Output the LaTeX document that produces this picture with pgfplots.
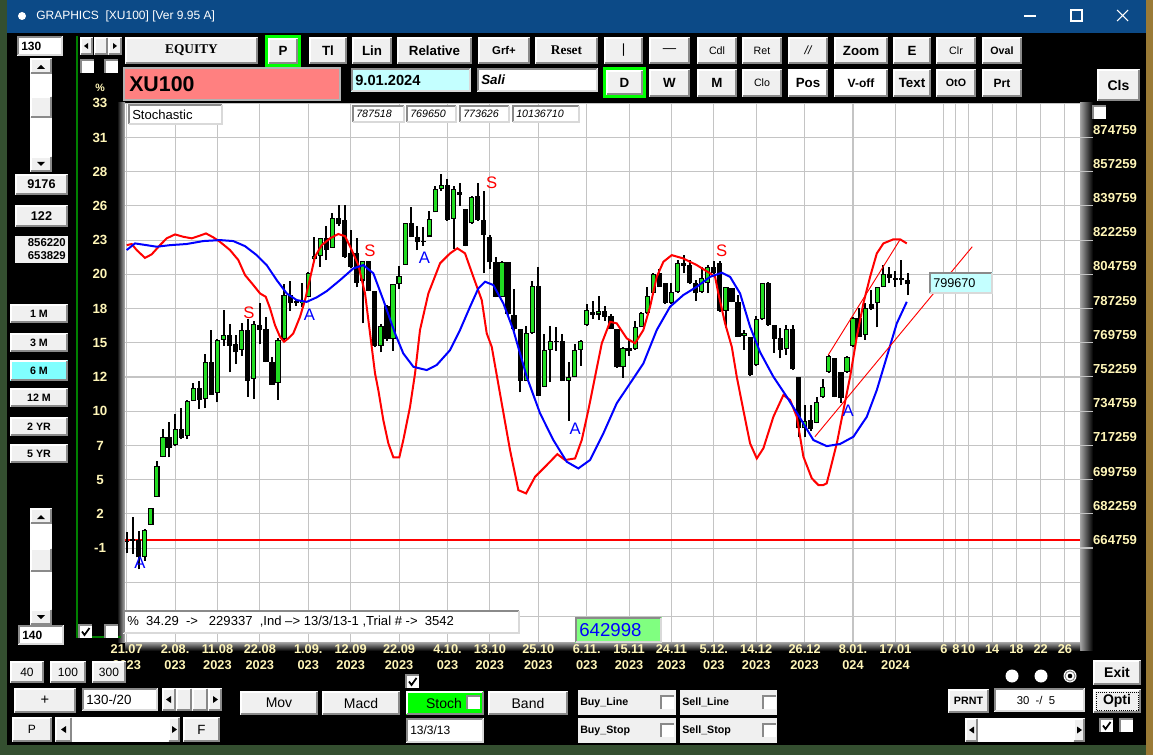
\documentclass[border=0pt]{standalone}
\usepackage{pgfplots}
\pgfplotsset{compat=1.18}
\usepackage{pgfplotstable}
\usepackage{fontspec}
\setmainfont{Liberation Sans}
\newfontfamily\tnr{Liberation Serif}
\definecolor{titleblue}{HTML}{0C4A87}
\definecolor{btngray}{HTML}{F0F0F0}
\definecolor{btndark}{HTML}{8A8A8A}
\definecolor{labyel}{HTML}{FFF6B8}
\definecolor{pinkbox}{HTML}{FF8080}
\definecolor{cyanbox}{HTML}{C4FFFF}
\definecolor{cyanbtn}{HTML}{80FFFF}
\definecolor{gbtn}{HTML}{00FF00}
\definecolor{lgreen}{HTML}{80FF80}
\definecolor{cgreen}{HTML}{22DD22}
\definecolor{frgreen}{HTML}{008000}
\definecolor{desk}{HTML}{344F30}
\definecolor{deskbrown}{HTML}{9A7A36}
\definecolor{gridgray}{HTML}{C4C4C4}
\newcommand{\fs}[1]{\fontsize{#1}{#1}\selectfont}
\newcommand{\btn}[6][btngray]{%
  \fill[#1] (#2,#3) rectangle (#4,#5);
  \draw[white,line width=1.2pt] (#2+0.8,#5-0.8) -- (#2+0.8,#3+0.8) -- (#4-0.8,#3+0.8);
  \draw[btndark,line width=1.2pt] (#2+0.8,#5-0.8) -- (#4-0.8,#5-0.8) -- (#4-0.8,#3+0.8);
  \node[inner sep=0pt] at ({(#2+#4)/2},{(#3+#5)/2}) {#6};}
\newcommand{\tbox}[6][white]{%
  \fill[#1] (#2,#3) rectangle (#4,#5);
  \draw[btndark,line width=1.2pt] (#2+0.8,#5-0.8) -- (#2+0.8,#3+0.8) -- (#4-0.8,#3+0.8);
  \draw[gray!30,line width=1.2pt] (#2+0.8,#5-0.8) -- (#4-0.8,#5-0.8) -- (#4-0.8,#3+0.8);
  \node[anchor=west,inner sep=0pt] at (#2+4,{(#3+#5)/2}) {#6};}
\newcommand{\cbox}[2]{\fill[white] (#1,#2) rectangle ++(13,13);
  \draw[btndark,line width=1pt] (#1,#2+13) -- (#1,#2) -- (#1+13,#2);}
\newcommand{\cboxc}[2]{\cbox{#1}{#2}\draw[black,line width=1.3pt] (#1+3,#2+6.5) -- (#1+5.5,#2+10) -- (#1+10.5,#2+3);}

\pgfplotstableread{
i o h l c
0 668600 672800 662000 668000
1 668300 680800 661700 669200
2 669000 673300 653829 660000
3 660300 674300 658300 674000
4 676700 685200 676500 685100
5 691000 709400 690900 706900
6 711500 725700 711200 721400
7 721400 729400 711200 715900
8 717600 733300 717100 725500
9 725700 736400 720400 721000
10 722100 740500 720400 739800
11 740200 749000 739800 746500
12 746500 750000 735900 740500
13 741000 764000 736400 759900
14 759900 776300 743100 743200
15 744100 771700 739300 771400
16 771400 786700 768100 773800
17 773800 779400 754600 768100
18 769100 773800 758900 764900
19 766100 779700 763200 776300
20 776300 781900 742200 750400
21 751200 781100 741000 779400
22 779100 790000 769100 776300
23 776800 782800 759700 760100
24 760100 762300 748300 748300
25 749000 772200 740500 771400
26 771700 799900 771400 794200
27 794200 801200 786200 790000
28 791300 792200 788800 790000
29 790000 800200 787900 791300
30 793000 806200 793000 805700
31 812600 823700 812300 814000
32 814300 823400 808700 823400
33 823200 829400 812100 817200
34 818300 836000 818300 833600
35 833600 840300 829700 830600
36 832600 840500 813200 813800
37 815500 827500 808000 808700
38 815500 823400 798100 800500
39 801600 811800 779700 811800
40 811400 811800 796100 796400
41 796400 796400 767400 768100
42 768300 779400 764900 778500
43 788800 789100 770900 771700
44 771700 799900 765700 799900
45 799900 809200 797300 803800
46 809700 831100 809700 830900
47 830900 839100 823700 824100
48 824100 829700 817200 821500
49 822000 828800 819500 821200
50 824100 837400 823700 833100
51 836500 850200 836500 848500
52 848500 856220 847600 850700
53 850700 853600 832300 832600
54 833100 850200 817800 848500
55 846800 851400 839900 845400
56 838200 838200 819100 819500
57 830900 845100 830600 844500
58 845100 851400 832300 832600
59 832600 847600 805300 825100
60 824100 825100 807500 810900
61 810900 813500 793000 793400
62 793400 811800 793000 811300
63 811300 811300 784200 784500
64 784200 797300 776000 776800
65 776800 776800 744400 750400
66 750400 778500 750000 774600
67 774600 801600 774300 798800
68 799000 808700 742700 742700
69 747300 774300 747000 766100
70 766100 778500 749500 770500
71 770900 777700 765700 770000
72 770900 774300 750000 750400
73 750400 759700 729900 752400
74 752400 769100 752100 766100
75 766100 771200 758100 770500
76 779000 789600 778500 786500
77 785400 791300 781900 784200
78 784200 793900 781400 785900
79 785900 788800 781100 783100
80 783600 784500 776800 776800
81 776800 776800 756900 757200
82 757200 767400 751800 767100
83 767100 771700 763200 765700
84 766600 781100 766100 778000
85 777700 785400 777700 784800
86 784800 798100 784500 793900
87 795100 805300 794200 805000
88 805300 807400 798100 798500
89 800200 800500 789600 790000
90 790000 800200 789600 795900
91 795900 812100 795400 810800
92 810400 814700 805300 809100
93 809600 812100 799800 800200
94 800200 801900 791300 795100
95 795900 808700 795400 802800
96 800200 809600 795100 808700
97 808700 811800 805000 805300
98 810400 811800 785700 786200
99 786200 798100 777200 798100
100 797600 797600 790500 790800
101 790800 794200 772600 772900
102 773200 776300 766100 774900
103 772900 772900 752900 753300
104 758400 783500 757900 781800
105 781800 800500 781400 800200
106 800200 801000 778400 778900
107 778900 778900 764700 771900
108 772000 777200 761800 766100
109 766400 778900 763500 776700
110 776700 778900 755800 756200
111 752400 752400 721700 726000
112 726000 737900 721700 729900
113 730300 737900 724800 725500
114 728900 742200 728600 739600
115 741900 751100 741500 747000
116 755000 763500 754500 763000
117 761800 761800 741900 742200
118 755000 755000 739100 741300
119 755000 763000 754500 762700
120 768100 783100 767800 782600
121 782300 787400 772600 772900
122 773700 790000 771200 787400
123 789600 796800 786500 787000
124 790000 798500 777700 798500
125 798500 809600 798100 805000
126 805000 808700 800200 802800
127 802800 806700 798500 801900
128 802800 812100 799300 801900
129 801900 805300 794200 799670
}\candles

\pgfplotstableread{
x y
0 819700
0.83 820300
1.65 817200
3.02 813200
4.13 815000
5.50 819700
6.61 823200
7.98 825200
9.35 824000
10.74 823200
11.83 824300
13.10 825700
14.31 823700
15.42 821400
17.07 817200
18.44 812100
19.55 804400
20.92 799300
22.03 795000
22.97 793300
23.68 787400
24.50 778800
25.33 772800
25.99 770300
26.70 772000
27.53 774600
28.64 783100
29.46 791600
30.29 802700
31.11 813800
32.22 819700
33.59 823200
34.96 825400
36.07 824300
37.18 817200
38.27 809500
39.38 795000
40.20 774600
41.03 754100
41.57 745600
42.40 730200
43.23 718300
44.05 711200
45.04 711200
45.70 720000
46.81 737000
47.64 754100
48.46 776300
49.84 795000
51.77 810400
53.42 815500
54.63 818100
55.90 815500
57.27 803500
58.66 791600
59.48 774600
60.31 767700
61.96 738800
63.33 714900
64.71 694400
65.98 692700
67.47 701200
69.40 707200
71.15 712800
72.42 709800
74.08 710600
75.18 720000
76.27 735300
77.38 752400
78.49 769500
79.86 780500
80.96 779700
82.62 772000
83.99 769500
85.36 776300
86.47 788200
87.57 803500
88.67 811200
90.05 814600
91.97 812900
94.18 809500
96.38 805300
97.21 803500
97.75 795000
98.86 779700
99.97 767700
100.79 752400
101.88 735300
102.99 718300
104.10 710600
105.19 715800
106.84 731900
108.49 743000
109.60 740500
110.71 731900
111.80 711500
113.19 700400
114.28 697000
115.10 697000
115.66 697900
117.32 718300
118.41 735300
119.52 752400
120.62 772800
121.71 789900
122.82 803500
123.93 815500
125.02 820600
126.67 822700
127.78 822700
128.88 820600
}\redk

\pgfplotstableread{
x y
0 817200
1.37 820600
3.30 819700
4.96 818900
7.15 819700
9.91 820300
12.66 821800
15.42 822300
17.61 821800
19.55 819200
21.48 814600
23.13 809500
24.79 801800
26.44 795000
28.09 791600
29.74 790700
31.39 793000
33.05 796200
35.24 801800
37.44 807800
39.09 809500
40.75 805300
42.40 791600
44.33 774600
45.70 764300
47.36 757500
49.57 755800
51.22 758400
53.42 766000
55.07 776300
56.73 788200
58.10 797600
59.20 801000
60.57 799300
62.23 789900
63.88 776300
66.09 752400
68.29 733700
70.49 720000
72.70 708900
74.62 705500
76.55 709800
78.75 723400
80.96 738800
83.16 749000
85.36 759200
87.57 776300
89.77 788200
91.97 794200
94.18 798400
96.38 803500
98.31 805600
99.69 803500
101.34 795000
102.99 778000
104.64 765000
106.84 752400
109.06 742100
111.25 731300
113.45 720000
115.66 716900
117.86 718000
120.06 721700
122.27 731900
123.93 745600
125.58 762600
127.23 779700
128.88 790700
}\bluek

\begin{document}
\begin{tikzpicture}[x=0.75pt,y=-0.75pt]
\useasboundingbox (0,0) rectangle (1153,755);
% desktop + window
\fill[desk] (0,0) rectangle (1153,755);
\fill[deskbrown] (1146,0) rectangle (1153,755);
\fill[black] (7,33) rectangle (1146,745);
\fill[titleblue] (7,0) rectangle (1146,33);
\fill[white] (22,16) circle (4);
\node[anchor=west,text=white,inner sep=0pt] at (36,16.5) {\fs{9}GRAPHICS\ \ [XU100] [Ver 9.95 A]};
\draw[white,line width=0.8pt] (1024,16) -- (1036,16);
\draw[white,line width=0.8pt] (1071,10) rectangle (1082,21);
\draw[white,line width=0.8pt] (1117,10) -- (1128,21) (1117,21) -- (1128,10);

% plot shadows
\shade[left color=black,right color=gray!60] (117,103) rectangle (125,642);
\shade[left color=gray!70,right color=black] (1080,103) rectangle (1093,650);
\shade[top color=gray!70,bottom color=black] (125,642) rectangle (1080,651);

% ===== main chart =====
\begin{axis}[
  at={(93.75pt,-481.5pt)}, anchor=south west, scale only axis,
  width=716.25pt, height=404pt,
  xmin=-0.28, xmax=157.5, ymin=616700, ymax=892259,
  axis background/.style={fill=white},
  axis line style={draw=none},
  major tick length=0pt,
  grid=major,
  major grid style={draw=gridgray, line width=0.8pt},
  xtick={0,8,15,22,30,37,45,53,60,68,76,83,90,97,104,112,120,127,135,137,139,143,147,151,155},
  xticklabels={{21.07\\2023},{2.08.\\023},{11.08\\2023},{22.08\\2023},{1.09.\\023},{12.09\\2023},{22.09\\2023},{4.10.\\023},{13.10\\2023},{25.10\\2023},{6.11.\\023},{15.11\\2023},{24.11\\2023},{5.12.\\023},{14.12\\2023},{26.12\\2023},{8.01.\\024},{17.01\\2024},6,8,10,14,18,22,26},
  xticklabel style={align=center, text=labyel, font=\bfseries\fontsize{9.6}{12}\selectfont, anchor=north, inner sep=2pt, text depth=0pt},
  ytick={664759,682259,699759,717259,734759,752259,769759,787259,804759,822259,839759,857259,874759,892259},
  yticklabels={-1,2,5,7,10,12,15,18,20,23,26,28,31,33},
  yticklabel style={text=labyel, font=\bfseries\fs{10}, anchor=center, xshift=-18.75pt},
  extra y ticks={629759,647259}, extra y tick labels={},
  extra y tick style={grid=major},
  scaled y ticks=false, scaled x ticks=false,
  clip=true,
]
\addplot[red, line width=0.9pt] coordinates {(-0.28,668850) (157.5,668850)};
% wicks
\addplot[draw=none, mark=none, forget plot, error bars/.cd, y dir=plus, y explicit, error mark=none,
  error bar style={draw=black, line width=1.5pt}]
  table[x=i, y=l, y error plus expr={\thisrow{h}-\thisrow{l}}] {\candles};
% bodies (outline)
\addplot[draw=none, mark=none, forget plot, error bars/.cd, y dir=plus, y explicit, error mark=none,
  error bar style={draw=black, line width=3.9pt}]
  table[x=i, y expr={min(\thisrow{o},\thisrow{c})}, y error plus expr={abs(\thisrow{c}-\thisrow{o})}] {\candles};
% green fill of rising candles
\addplot[draw=none, mark=none, forget plot, error bars/.cd, y dir=plus, y explicit, error mark=none,
  error bar style={draw=cgreen, line width=2.3pt}]
  table[x=i, y expr={\thisrow{o}+550}, y error plus expr={max(\thisrow{c}-\thisrow{o}-1100,0)}] {\candles};
% oscillator lines
\addplot[red, line width=1.5pt] table[x=x,y=y] {\redk};
\addplot[blue, line width=1.5pt] table[x=x,y=y] {\bluek};
% trend lines
\addplot[red, line width=0.7pt] coordinates {(113.7,721700) (139.7,818900)};
\addplot[red, line width=0.7pt] coordinates {(115.9,763500) (127.8,822700)};
% signal letters
\addplot[draw=none, mark=none, nodes near coords, point meta=explicit symbolic,
  nodes near coords style={anchor=center, inner sep=0pt, text=red, font=\fs{12.5}}]
  table[x=x,y=y,meta=t] {
x y t
20.2 785000 S
40.2 816700 S
60.3 851700 S
98.3 816700 S
};
\addplot[draw=none, mark=none, nodes near coords, point meta=explicit symbolic,
  nodes near coords style={anchor=center, inner sep=0pt, text=blue, font=\fs{12.5}}]
  table[x=x,y=y,meta=t] {
x y t
2.2 657100 A
30.2 783900 A
49.2 813300 A
74.1 725600 A
119.2 734800 A
};
\end{axis}

% right price axis
\begin{axis}[
  at={(93.75pt,-481.5pt)}, anchor=south west, scale only axis,
  width=716.25pt, height=404pt,
  xmin=-0.28, xmax=157.5, ymin=616700, ymax=892259,
  axis x line=none, axis y line*=right, axis line style={draw=none},
  major tick length=0pt,
  ytick={664759,682259,699759,717259,734759,752259,769759,787259,804759,822259,839759,857259,874759},
  yticklabels={664759,682259,699759,717259,734759,752259,769759,787259,804759,822259,839759,857259,874759},
  yticklabel style={text=labyel, font=\bfseries\fs{9.8}, anchor=center, xshift=26.25pt, yshift=6pt},
  scaled y ticks=false,
]
\end{axis}
\foreach \k in {0,...,12} \draw[gridgray, line width=0.8pt] (1080,{548-34.21*\k}) -- (1093,{548-34.21*\k});

% boxes inside chart
\tbox{128}{104}{223}{125}{\fs{9.8}Stochastic}
\tbox{352}{105}{405}{123}{\itshape\fs{8}787518}
\tbox{406}{105}{457}{123}{\itshape\fs{8}769650}
\tbox{459}{105}{510}{123}{\itshape\fs{8}773626}
\tbox{512}{105}{580}{123}{\itshape\fs{8}10136710}
\tbox{123}{610}{520}{634}{\fs{9.8}\%\ \ 34.29\ \ ->\ \ \ 229337\ \ ,Ind --> 13/3/13-1 ,Trial \# ->\ \ 3542}
\tbox[lgreen]{575}{617}{662}{643}{\color{blue}\fs{14}642998}
\tbox[cyanbox]{929}{272}{993}{294}{\fs{9.5}799670}

% ===== top toolbar =====
\btn{125}{37}{258}{64}{\tnr\bfseries\fs{10}EQUITY}
\fill[gbtn] (265,35) rectangle (301,67);
\btn{268}{38}{298}{64}{\bfseries\fs{10}P}
\btn{309}{37}{347}{64}{\bfseries\fs{10}Tl}
\btn{352}{37}{392}{64}{\bfseries\fs{10}Lin}
\btn{397}{37}{472}{64}{\bfseries\fs{10}Relative}
\btn{478}{37}{530}{64}{\bfseries\fs{8.5}Grf+}
\btn{535}{37}{598}{64}{\tnr\bfseries\fs{10}Reset}
\btn{604}{37}{643}{64}{\fs{10}|}
\btn{649}{37}{690}{64}{\fs{10}---}
\btn{697}{37}{737}{64}{\fs{8}Cdl}
\btn{742}{37}{782}{64}{\fs{8}Ret}
\btn{788}{37}{828}{64}{\itshape\fs{9}//}
\btn{834}{37}{888}{64}{\bfseries\fs{10}Zoom}
\btn{893}{37}{931}{64}{\bfseries\fs{10}E}
\btn{936}{37}{976}{64}{\fs{8}Clr}
\btn{982}{37}{1022}{64}{\bfseries\fs{8}Oval}

\fill[pinkbox] (124,68) rectangle (340,100);
\draw[gray!60,line width=1pt] (124,68) rectangle (340,100);
\node[anchor=west,inner sep=0pt] at (129,84) {\bfseries\fs{16}XU100};
\tbox[cyanbox]{351}{68}{471}{92}{\bfseries\fs{11}9.01.2024}
\tbox{477}{68}{598}{92}{\bfseries\itshape\fs{10}Sali}
\fill[gbtn] (603,67) rectangle (646,98);
\btn{606}{70}{643}{95}{\bfseries\fs{10}D}
\btn{649}{69}{690}{97}{\bfseries\fs{10}W}
\btn{697}{69}{737}{97}{\bfseries\fs{10}M}
\btn{742}{69}{782}{97}{\fs{8}Clo}
\btn[white]{788}{69}{828}{97}{\bfseries\fs{10}Pos}
\btn[white]{834}{69}{888}{97}{\bfseries\fs{9}V-off}
\btn{893}{69}{931}{97}{\bfseries\fs{10}Text}
\btn{936}{69}{976}{97}{\bfseries\fs{8}OtO}
\btn{982}{69}{1022}{97}{\bfseries\fs{9}Prt}
\btn{1097}{69}{1140}{101}{\bfseries\fs{10.5}Cls}
\cbox{1093}{106}

% ===== left panel =====
\tbox{17}{36}{63}{56}{\bfseries\fs{9}130}
\fill[white] (30,58) rectangle (52,172);
\btn{30}{58}{52}{74}{}
\fill[black] (37,69) -- (45,69) -- (41,65) -- cycle;
\btn{30}{96}{52}{118}{}
\btn{30}{156}{52}{172}{}
\fill[black] (37,162) -- (45,162) -- (41,166) -- cycle;
\btn{15}{174}{68}{195}{\bfseries\fs{9.5}9176}
\btn{15}{205}{68}{227}{\bfseries\fs{9.5}122}
\fill[btngray] (15,236) rectangle (68,263);
\node[anchor=east,inner sep=0pt] at (66,243) {\bfseries\fs{8.5}856220};
\node[anchor=east,inner sep=0pt] at (66,256) {\bfseries\fs{8.5}653829};
\btn{10}{304}{68}{323}{\bfseries\fs{8}1 M}
\btn{10}{333}{68}{352}{\bfseries\fs{8}3 M}
\btn[cyanbtn]{10}{360}{68}{381}{\bfseries\fs{8}6 M}
\btn{10}{388}{68}{407}{\bfseries\fs{8}12 M}
\btn{10}{417}{68}{436}{\bfseries\fs{8}2 YR}
\btn{10}{444}{68}{463}{\bfseries\fs{8}5 YR}
\fill[white] (30,508) rectangle (52,625);
\btn{30}{508}{52}{524}{}
\fill[black] (37,519) -- (45,519) -- (41,515) -- cycle;
\btn{30}{548}{52}{572}{}
\btn{30}{609}{52}{625}{}
\fill[black] (37,615) -- (45,615) -- (41,619) -- cycle;
\tbox{18}{625}{64}{645}{\bfseries\fs{9}140}
\draw[frgreen,line width=2.2pt] (77,36) -- (77,637) -- (121,637);
\btn{80}{37}{93}{55}{}
\fill[black] (88,43) -- (88,49) -- (84,46) -- cycle;
\btn{94}{37}{108}{55}{}
\btn{108}{37}{122}{55}{}
\fill[black] (113,43) -- (113,49) -- (117,46) -- cycle;
\cbox{81}{60}
\cbox{105}{60}
\node[text=labyel,inner sep=0pt] at (100,88) {\bfseries\fs{8}\%};
\cboxc{79}{625}
\cbox{105}{625}

% ===== bottom controls =====
\btn{10}{661}{44}{683}{\fs{9}40}
\btn{50}{661}{86}{683}{\fs{9}100}
\btn{92}{661}{126}{683}{\fs{9}300}
\btn{14}{688}{76}{713}{\fs{11}+}
\tbox{82}{688}{158}{711}{\fs{10}130-/20}
\btn{162}{688}{176}{711}{}
\fill[black] (171,696) -- (171,703) -- (166,699.5) -- cycle;
\btn{176}{688}{192}{711}{}
\btn{192}{688}{208}{711}{}
\btn{208}{688}{222}{711}{}
\fill[black] (213,696) -- (213,703) -- (218,699.5) -- cycle;
\btn{12}{717}{52}{742}{\fs{9}P}
\fill[white] (55,717) rectangle (180,742);
\btn{55}{717}{72}{742}{}
\fill[black] (66,726) -- (66,733) -- (61,729.5) -- cycle;
\btn{168}{717}{180}{742}{}
\fill[black] (172,726) -- (172,733) -- (177,729.5) -- cycle;
\btn{183}{717}{220}{742}{\fs{10}F}
\btn{240}{691}{318}{715}{\fs{10.5}Mov}
\btn{322}{691}{400}{715}{\fs{10.5}Macd}
\btn[gbtn]{406}{691}{484}{715}{}
\node[inner sep=0pt] at (444,703) {\fs{10.5}Stoch};
\cbox{467}{696}
\btn{488}{691}{568}{715}{\fs{10.5}Band}
\cboxc{406}{675}
\tbox{406}{718}{484}{743}{\fs{9}13/3/13}
\fill[btngray] (578,690) rectangle (676,715);
\node[anchor=west,inner sep=0pt] at (580,702.5) {\bfseries\fs{8}Buy\_Line};
\cbox{661}{696}
\fill[btngray] (680,690) rectangle (777,715);
\node[anchor=west,inner sep=0pt] at (682,702.5) {\bfseries\fs{8}Sell\_Line};
\cbox{763}{696}
\fill[btngray] (578,718) rectangle (676,743);
\node[anchor=west,inner sep=0pt] at (580,730.5) {\bfseries\fs{8}Buy\_Stop};
\cbox{661}{724}
\fill[btngray] (680,718) rectangle (777,743);
\node[anchor=west,inner sep=0pt] at (682,730.5) {\bfseries\fs{8}Sell\_Stop};
\cbox{763}{724}
\fill[white] (1012,676) circle (6.5);
\fill[white] (1041,676) circle (6.5);
\fill[white] (1070,676) circle (6.5);
\draw[gray,line width=0.7pt] (1070,676) circle (5);
\fill[black] (1070,676) circle (2.3);
\btn{1093}{660}{1141}{685}{\bfseries\fs{10.5}Exit}
\btn{1093}{689}{1141}{713}{\bfseries\fs{10.5}Opti}
\draw[black,densely dotted,line width=0.6pt] (1096,692) rectangle (1138,710);
\btn{948}{689}{989}{713}{\bfseries\fs{8}PRNT}
\tbox{994}{688}{1085}{712}{\ \ \ \ \ \fs{8.5}30\ \ -/\ \ 5}
\fill[white] (965,718) rectangle (1085,742);
\btn{965}{718}{978}{742}{}
\fill[black] (974,726.5) -- (974,733.5) -- (969,730) -- cycle;
\btn{1073}{718}{1085}{742}{}
\fill[black] (1077,726.5) -- (1077,733.5) -- (1082,730) -- cycle;
\cboxc{1100}{719}
\cbox{1120}{719}
\end{tikzpicture}
\end{document}
